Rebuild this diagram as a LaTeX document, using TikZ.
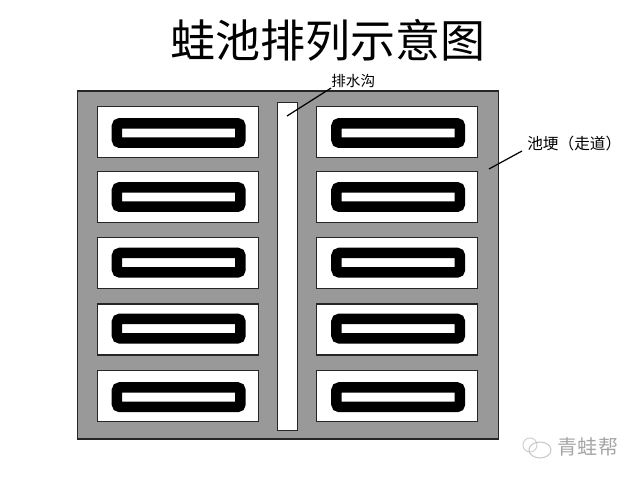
\documentclass[tikz,border=0pt]{standalone}
\usepackage{fontspec}
\setmainfont{Noto Sans CJK SC}
\usetikzlibrary{calc,shapes.geometric}
\definecolor{ridgegray}{gray}{0.6}
\tikzset{
  pond/.style={draw=black!85,fill=white,line width=0.6pt,minimum width=3.22cm,minimum height=1.02cm,inner sep=0pt},
  ring/.style={draw=black,fill=white,line width=0.21cm,rounded corners=0.06cm,minimum width=2.47cm,minimum height=0.39cm,inner sep=0pt},
  leader/.style={draw=black,line width=0.7pt},
  note/.style={font=\fontsize{8.3pt}{10pt}\selectfont,inner sep=0pt}
}
\begin{document}
\begin{tikzpicture}[x=0.02cm,y=-0.02cm]

\useasboundingbox (0,0) rectangle (640,480);

\node[font=\fontsize{25.6pt}{30pt}\selectfont,inner sep=0pt] (title) at (328,40) {蛙池排列示意图};

\node[draw=black!85,fill=ridgegray,line width=1pt,minimum width=8.42cm,minimum height=6.96cm,inner sep=0pt] (field) at (288,265) {};
\node[draw=black!85,fill=white,line width=0.6pt,minimum width=0.41cm,minimum height=6.56cm,inner sep=0pt] (drain) at (287.5,266.5) {};

\foreach \n/\y/\w in {1/131.7/133,2/196.7/197,3/262.8/262.7,4/329.5/328.6,5/396.3/397.2} {
  \node[pond] (l\n) at (177.8,\y) {};
  \node[pond] (r\n) at (397,\y) {};
  \node[ring] (lw\n) at (178.7,\w) {};
  \node[ring] (rw\n) at (398.2,\w) {};
}

\node[note,anchor=west] (a1) at (331,81) {排水沟};
\node[note,anchor=west,font=\fontsize{8.9pt}{10pt}\selectfont] (a2) at (527,144) {池埂（走道）};
\coordinate (b1) at (287,116);
\coordinate (b2) at (489,169);
\coordinate (e2) at (522,151);

\path[leader] (a1.south west) -- (b1);
\path[leader] (e2) -- (b2);

% logo
\node[draw=black!18,line width=0.6pt,circle,minimum size=0.28cm,inner sep=0pt] (c1) at (530,445) {};
\node[draw=black!22,line width=0.6pt,ellipse,minimum width=0.44cm,minimum height=0.32cm,inner sep=0pt] (c2) at (540,450) {};
\node[text=black!35,font=\fontsize{11.4pt}{14pt}\selectfont,inner sep=0pt] (wm) at (588,447) {青蛙帮};

\end{tikzpicture}
\end{document}
